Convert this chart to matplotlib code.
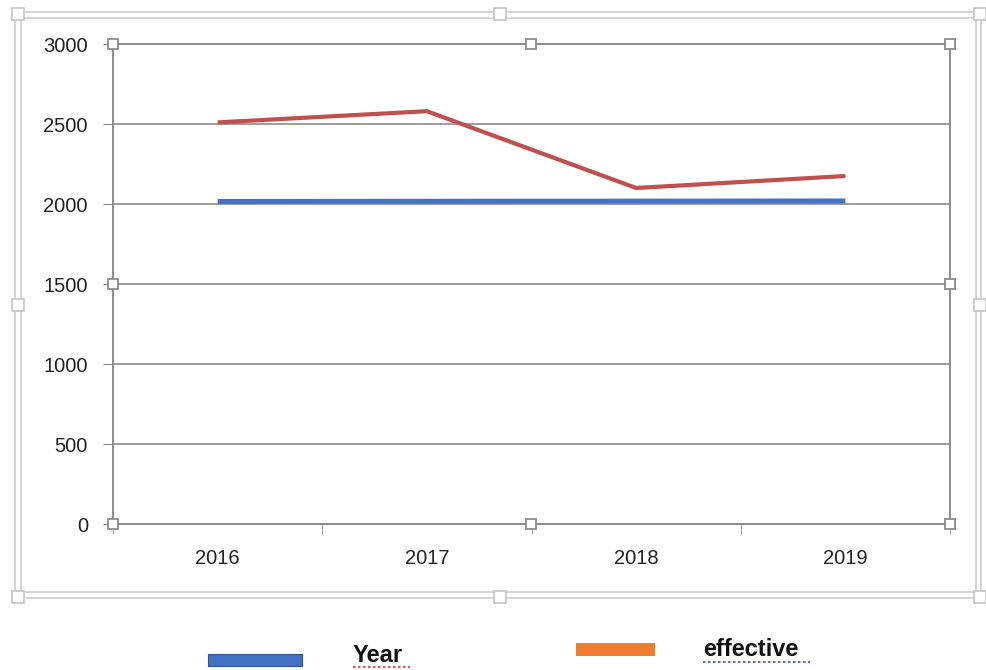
import numpy as np
import matplotlib.pyplot as plt
from matplotlib.patches import Rectangle

years = ['2016', '2017', '2018', '2019']
year_vals = [2016, 2017, 2018, 2019]
effective = [2510, 2580, 2100, 2175]
yticks = [0, 500, 1000, 1500, 2000, 2500, 3000]

W, H = 986, 670
fig = plt.figure(figsize=(W / 100, H / 100), dpi=100)
plt.rcParams['font.family'] = ['Liberation Sans', 'DejaVu Sans']


def fx(px):
    return px / W


def fy(py):
    return 1 - py / H


ax = fig.add_axes([fx(113), fy(524), fx(950) - fx(113), fy(44) - fy(524)])
x = np.arange(len(years))
ax.plot(x, year_vals, color='#4472C4', lw=3.6, solid_capstyle='butt', zorder=3)
ax.plot(x, effective, color='#C0504D', lw=3.0, solid_capstyle='butt', zorder=3)

ax.set_xlim(-0.5, len(years) - 0.5)
ax.set_ylim(0, 3000)
ax.set_yticks(yticks)
ax.set_yticklabels([str(v) for v in yticks])
ax.set_xticks(x)
ax.set_xticklabels(years)
ax.set_xticks(np.arange(-0.5, len(years)), minor=True)
ax.tick_params(axis='x', which='major', length=0, pad=18, labelsize=14.5, colors='#222222')
ax.tick_params(axis='x', which='minor', length=7, color='#888888', direction='out')
ax.tick_params(axis='y', length=7, color='#888888', pad=11, labelsize=14.5, colors='#222222')
ax.grid(axis='y', color='#8c8c8c', lw=1.2)
ax.set_axisbelow(True)
for s in ax.spines.values():
    s.set_color('#8c8c8c')
    s.set_linewidth(1.4)

# selection frame of the chart area
fig.add_artist(Rectangle((fx(15), fy(598)), fx(981) - fx(15), fy(12) - fy(598),
                         fill=False, ec='#d4d4d4', lw=1.4))
fig.add_artist(Rectangle((fx(21), fy(592)), fx(976) - fx(21), fy(18) - fy(592),
                         fill=False, ec='#d4d4d4', lw=1.4))

# selection handles
def handle(px, py, size, ec):
    fig.add_artist(Rectangle((fx(px - size / 2), fy(py + size / 2)), fx(size), size / H,
                             fc='white', ec=ec, lw=1.3, zorder=10))


for px, py in [(113, 44), (531, 44), (950, 44), (113, 284), (950, 284),
               (113, 524), (531, 524), (950, 524)]:
    handle(px, py, 10, '#8c8c8c')
for px, py in [(18, 14), (500, 14), (980, 14), (18, 305), (980, 305),
               (18, 597), (500, 597), (980, 597)]:
    handle(px, py, 12, '#c8c8c8')

# legend below the chart
fig.add_artist(Rectangle((fx(208), fy(666)), fx(94), 12 / H, fc='#4472C4', ec='#2F5597', lw=0.8))
fig.add_artist(Rectangle((fx(576), fy(656)), fx(79), 13 / H, fc='#ED7D31', ec='none'))
fig.text(fx(353), fy(655), 'Year', fontsize=17, fontweight='bold', va='center', ha='left',
         color='#111111')
fig.text(fx(703), fy(650), 'effective', fontsize=17, fontweight='bold', va='center', ha='left',
         color='#111111')
# spell-check squiggles under the legend words
fig.add_artist(plt.Line2D([fx(353), fx(410)], [fy(667), fy(667)], color='#e03030', lw=1.2,
                          ls=(0, (1.5, 1.5))))
fig.add_artist(plt.Line2D([fx(703), fx(810)], [fy(662), fy(662)], color='#3050e0', lw=1.2,
                          ls=(0, (1.5, 1.5))))

fig.savefig('out.png', dpi=100)
